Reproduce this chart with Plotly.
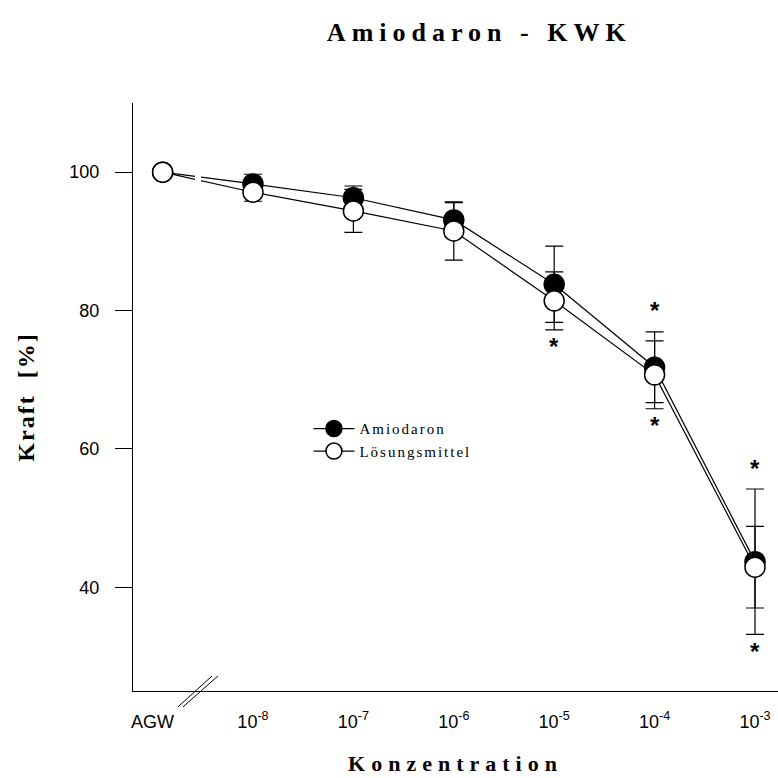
import plotly.graph_objects as go

# Concentration axis: baseline (AGW) followed by log10 concentrations
tick_labels = ["AGW", "10<sup>-8</sup>", "10<sup>-7</sup>", "10<sup>-6</sup>",
               "10<sup>-5</sup>", "10<sup>-4</sup>", "10<sup>-3</sup>"]
log_conc = [-8, -7, -6, -5, -4, -3]

# Force in % of baseline, mean and SEM
amio_mean = [100, 98.3, 96.3, 93.1, 83.8, 71.8, 43.7]
amio_sem = [0, 1.4, 1.7, 2.5, 5.5, 5.1, 10.5]
solv_mean = [100, 97.1, 94.4, 91.5, 81.4, 70.7, 42.9]
solv_sem = [0, 1.3, 3.1, 4.2, 4.2, 4.9, 5.9]

# Significance markers above / below each concentration
sig_above = ["", "", "", "", "", "*", "*"]
sig_below = ["", "", "", "", "*", "*", "*"]

AGW_POS = -8.9          # where the baseline point sits left of the break
AGW_TICK = -9.0
x_pos = [AGW_POS] + log_conc
tick_pos = [AGW_TICK] + log_conc

SERIF = "Liberation Serif"
SANS = "Liberation Sans"

fig = go.Figure()

fig.add_trace(go.Scatter(
    x=x_pos, y=amio_mean, name="Amiodaron", mode="lines+markers",
    line=dict(color="black", width=1.2),
    marker=dict(size=20, color="black", line=dict(color="black", width=1.5)),
    error_y=dict(type="data", array=amio_sem, visible=True,
                 color="black", thickness=1.2, width=9),
))
fig.add_trace(go.Scatter(
    x=x_pos, y=solv_mean, name="Lösungsmittel", mode="lines+markers",
    line=dict(color="black", width=1.2),
    marker=dict(size=20, color="white", line=dict(color="black", width=1.5)),
    error_y=dict(type="data", array=solv_sem, visible=True,
                 color="black", thickness=1.2, width=9),
))

# Significance asterisks beyond the outermost error bar
annotations = []
for i, x in enumerate(x_pos):
    top = max(amio_mean[i] + amio_sem[i], solv_mean[i] + solv_sem[i])
    bot = min(amio_mean[i] - amio_sem[i], solv_mean[i] - solv_sem[i])
    if sig_above[i]:
        annotations.append(dict(x=x, y=top, text=sig_above[i], showarrow=False,
                                yanchor="middle", yshift=21,
                                font=dict(family=SANS, size=24, color="black", weight="bold")))
    if sig_below[i]:
        annotations.append(dict(x=x, y=bot, text=sig_below[i], showarrow=False,
                                yanchor="middle", yshift=-17,
                                font=dict(family=SANS, size=24, color="black", weight="bold")))

# Axis break: gap in the connecting lines and double slash on the x axis
shapes = [
    dict(type="rect", xref="x", yref="y", x0=-8.578, x1=-8.518, y0=96.5, y1=101.5,
         fillcolor="white", line=dict(width=0), layer="above"),
    dict(type="line", xref="x", yref="paper", x0=-8.747, x1=-8.408, y0=-0.027, y1=0.0255,
         line=dict(color="black", width=1)),
    dict(type="line", xref="x", yref="paper", x0=-8.697, x1=-8.349, y0=-0.027, y1=0.0255,
         line=dict(color="black", width=1)),
]

fig.update_layout(
    width=778, height=778,
    margin=dict(l=133, r=0, t=103, b=87),
    paper_bgcolor="white", plot_bgcolor="white",
    title=dict(text="Amiodaron - KWK", x=0.616, xanchor="center",
               y=1 - 32 / 778, yanchor="middle", xref="container", yref="container",
               font=dict(family=SERIF, size=26, color="black", weight="bold")),
    showlegend=True,
    legend=dict(x=0.272, y=0.474, xanchor="left", yanchor="top",
                bgcolor="rgba(0,0,0,0)", itemwidth=41, tracegroupgap=0,
                font=dict(family=SERIF, size=15, color="black")),
    annotations=annotations,
    shapes=shapes,
)

fig.update_xaxes(
    range=[-9.195, -2.771], showgrid=False, zeroline=False,
    showline=True, linecolor="black", linewidth=1.2,
    tickmode="array", tickvals=tick_pos, ticktext=tick_labels,
    ticks="outside", ticklen=14, tickcolor="rgba(0,0,0,0)",
    tickfont=dict(family=SANS, size=18, color="black"),
    title=dict(text="Konzentration", standoff=24,
               font=dict(family=SERIF, size=22, color="black", weight="bold")),
)
fig.update_yaxes(
    range=[25, 110], showgrid=False, zeroline=False,
    showline=True, linecolor="black", linewidth=1.2,
    tickmode="array", tickvals=[40, 60, 80, 100],
    ticks="outside", ticklen=17, tickwidth=1, tickcolor="black",
    ticklabelstandoff=12,
    tickfont=dict(family=SANS, size=18, color="black"),
    title=dict(text="Kraft\u00a0\u00a0[%]", standoff=27,
               font=dict(family=SERIF, size=24, color="black", weight="bold")),
)

# Wider tracking for the serif headings and legend entries
letter_spacing_css = """
var st = document.createElement('style');
st.textContent = '.gtitle{letter-spacing:6px;} .xtitle{letter-spacing:6px;} ' +
                 '.ytitle{letter-spacing:2px;} .legendtext{letter-spacing:2px;} ' +
                 '.legend .scrollbox{clip-path:none !important;}';
document.head.appendChild(st);
"""

fig.write_html("out.html", post_script=letter_spacing_css)
